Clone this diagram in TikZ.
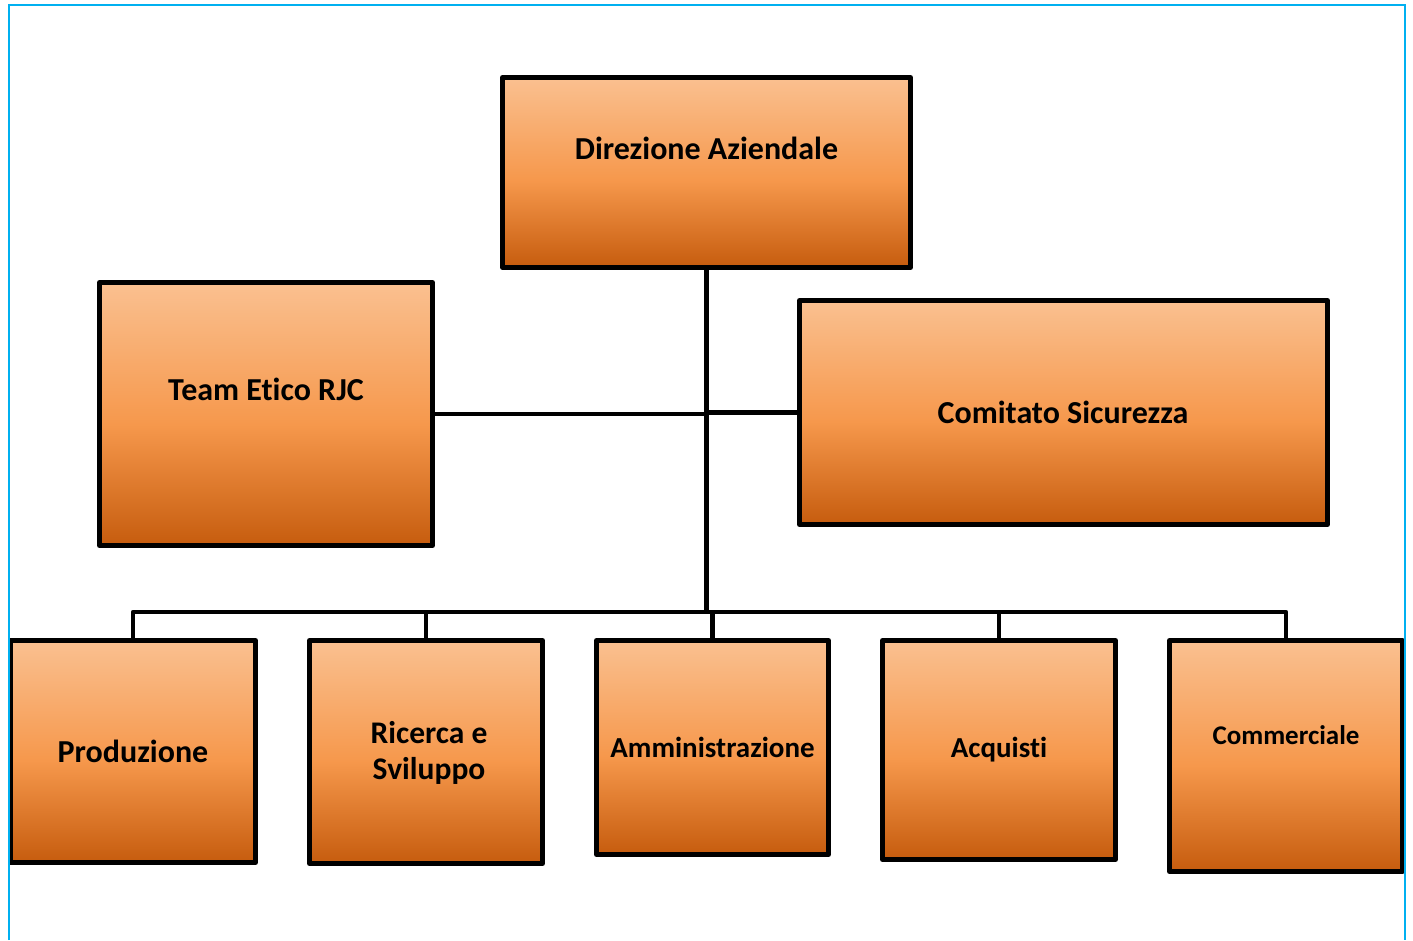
\documentclass[tikz,border=0pt]{standalone}
\usepackage{fontspec}
\setmainfont{Carlito}[Ligatures={NoCommon}]
\definecolor{ortop}{RGB}{250,192,144}
\definecolor{ormid}{RGB}{246,152,76}
\definecolor{orbot}{RGB}{198,92,14}
\definecolor{frameblue}{RGB}{0,176,240}
\pgfdeclareverticalshading{orgrad}{100bp}{color(0bp)=(orbot); color(25bp)=(orbot); color(48bp)=(ormid); color(75bp)=(ortop); color(100bp)=(ortop)}
\begin{document}
\begin{tikzpicture}[x=1pt,y=-1pt,
  box/.style={draw=black, line width=5pt, line join=round, shading=orgrad, inner sep=0pt, outer sep=0pt, anchor=north west},
  txt/.style={font=\fontsize{#1}{36}\selectfont\bfseries, align=center, inner sep=0pt},
  txt/.default=32,
  link/.style={draw=black, line width=4.3pt, line join=round}]
\useasboundingbox (0,0) rectangle (1413,940);
% boxes
\node[box, minimum width=408pt, minimum height=190pt] (dir) at (502.5,77.5) {};
\node[box, minimum width=333pt, minimum height=263pt] (team) at (99.5,282.5) {};
\node[box, minimum width=528pt, minimum height=224pt] (com) at (799.5,300.5) {};
\node[box, minimum width=245pt, minimum height=222pt] (prod) at (10.5,640.5) {};
\node[box, minimum width=233pt, minimum height=223pt] (ric) at (309.5,640.5) {};
\node[box, minimum width=232pt, minimum height=214pt] (amm) at (596.5,640.5) {};
\node[box, minimum width=233pt, minimum height=219pt] (acq) at (882.5,640.5) {};
\node[box, minimum width=233pt, minimum height=231pt] (comm) at (1169.5,640.5) {};
% texts
\node[txt] (tdir) at (706.5,148) {Direzione Aziendale};
\node[txt] (tteam) at (266,389) {Team Etico RJC};
\node[txt] (tcom) at (1063,412) {Comitato Sicurezza};
\node[txt] (tprod) at (133,751) {Produzione};
\node[txt=31.5] (tric) at (429,752.5) {Ricerca e\\Sviluppo};
\node[txt=29] (tamm) at (712.5,747) {Amministrazione};
\node[txt=29] (tacq) at (999,750) {Acquisti};
\node[txt=27] (tcomm) at (1286,735) {Commerciale};
% connectors
\coordinate (bus) at (706.5,612);
\draw[link] (dir.south) -- (bus);
\draw[link] (team.east) -- (team.east -| dir.south);
\draw[link] (com.west) -- (com.west -| dir.south);
\foreach \n in {prod,ric,amm,acq,comm} \draw[link] (\n.north) |- (bus);
% frame
\coordinate (fbl) at (8.5,940);
\coordinate (ftl) at (8.5,5);
\coordinate (ftr) at (1404.5,5);
\coordinate (fbr) at (1404.5,940);
\draw[frameblue, line width=2pt] (fbl) -- (ftl) -- (ftr) -- (fbr);
\end{tikzpicture}
\end{document}
